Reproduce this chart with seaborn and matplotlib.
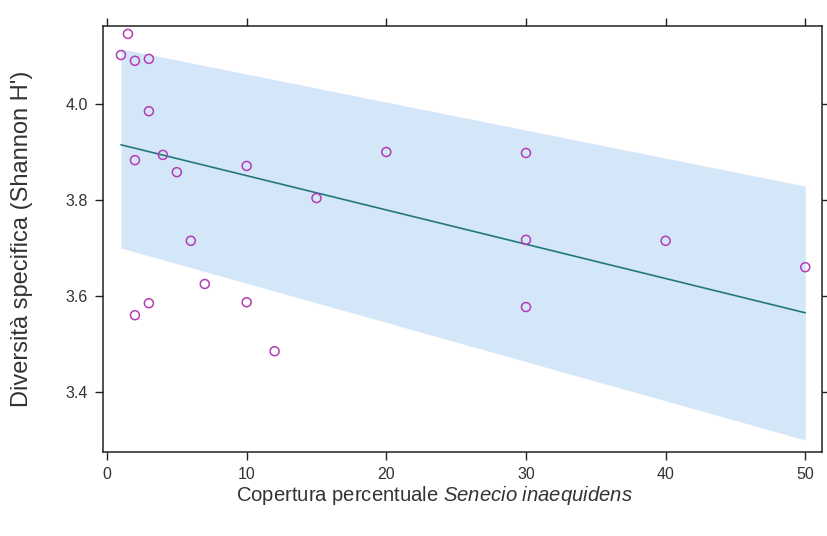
import numpy as np
import pandas as pd
import matplotlib
matplotlib.use("Agg")
import matplotlib.pyplot as plt
import seaborn as sns

# Percent cover of Senecio inaequidens and Shannon diversity per plot
cover = [1, 1.5, 2, 3, 3, 2, 4, 5, 6, 7, 2, 3, 10, 10, 12, 15, 20, 30, 30, 30, 40, 50]
shannon = [4.102, 4.146, 4.090, 4.094, 3.985, 3.883, 3.894, 3.858, 3.715, 3.625,
           3.560, 3.585, 3.587, 3.871, 3.485, 3.804, 3.900, 3.898, 3.717, 3.577,
           3.715, 3.660]

# Fitted trend and its interval band
fit_x = [1, 50]
fit_y = [3.915, 3.565]
band_lo = [3.700, 3.300]
band_hi = [4.115, 3.829]

x_ticks = [0, 10, 20, 30, 40, 50]
y_ticks = [3.4, 3.6, 3.8, 4.0]

sns.set_style("white")
plt.rcParams["font.family"] = ["Liberation Sans", "DejaVu Sans"]
plt.rcParams["mathtext.fontset"] = "custom"
plt.rcParams["mathtext.rm"] = "Liberation Sans"
plt.rcParams["mathtext.it"] = "Liberation Sans:italic"

df = pd.DataFrame({"cover": cover, "shannon": shannon})
fit = pd.DataFrame({"x": fit_x, "y": fit_y})

fig = plt.figure(figsize=(8.27, 5.36), dpi=100)
ax = fig.add_axes([0.1245, 0.1567, 0.8695, 0.7948])

ax.fill_between(fit_x, band_lo, band_hi, color="#d4e7f9", linewidth=0, zorder=1)
sns.lineplot(data=fit, x="x", y="y", ax=ax, color="#23787c", linewidth=1.2, zorder=2)
sns.scatterplot(data=df, x="cover", y="shannon", ax=ax, s=42, facecolor="none",
                edgecolor="#b43cb4", linewidth=1.1, zorder=3)

ax.set_xlim(-0.29, 51.2)
ax.set_ylim(3.275, 4.1625)
ax.set_xticks(x_ticks)
ax.set_yticks(y_ticks)
ax.set_yticklabels([f"{v:.1f}" for v in y_ticks])
ax.tick_params(axis="both", which="both", direction="out", length=6, width=1,
               color="#222222", labelsize=11.5, labelcolor="#333333",
               top=True, right=True, bottom=True, left=True, pad=5)
for sp in ax.spines.values():
    sp.set_color("#222222")
    sp.set_linewidth(1.1)

ax.set_xlabel("Copertura percentuale $\\it{Senecio\\ inaequidens}$", fontsize=14.6,
              color="#333333")
ax.set_ylabel("Diversità specifica (Shannon H')", fontsize=17, color="#333333")
ax.xaxis.set_label_coords(0.461, -0.075)
ax.yaxis.set_label_coords(-0.097, 0.5)

fig.savefig("out.png", dpi=100)
